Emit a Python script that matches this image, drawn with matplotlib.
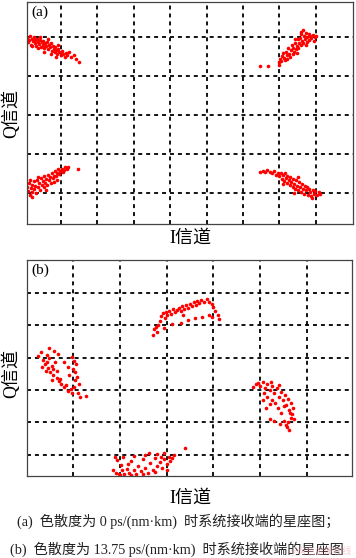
import matplotlib
matplotlib.use("Agg")
import matplotlib.pyplot as plt
import numpy as np

plt.rcParams['font.family'] = ['Liberation Serif', 'Noto Sans CJK SC']

# (a) dispersion 0 ps/(nm km): four clusters, values in grid units
a_tl = [(-4.42,1.97),(-4.40,1.86),(-4.37,1.92),(-4.35,2.01),(-4.33,1.80),(-4.30,1.95),(-4.27,1.88),(-4.25,1.99),
        (-4.22,1.83),(-4.20,1.91),(-4.18,1.77),(-4.15,1.95),(-4.12,1.86),(-4.10,1.81),(-4.08,1.92),(-4.05,1.74),
        (-4.03,1.87),(-4.00,1.80),(-3.98,1.90),(-3.95,1.70),(-3.93,1.84),(-3.90,1.77),(-3.88,1.87),(-3.85,1.68),
        (-3.83,1.80),(-3.80,1.73),(-3.77,1.84),(-3.75,1.64),(-3.72,1.76),(-3.70,1.69),(-3.67,1.60),(-3.65,1.73),
        (-3.62,1.66),(-3.60,1.55),(-3.57,1.68),(-3.54,1.61),(-3.50,1.52),(-3.47,1.63),(-3.44,1.57),(-3.40,1.49),
        (-3.36,1.58),(-3.32,1.52),(-3.27,1.60),(-3.22,1.47),(-3.15,1.53),(-3.08,1.42),(-3.00,1.35),(-3.64,1.48),
        (-3.85,1.93),(-4.06,1.99),(-4.28,1.75),(-3.96,1.62),(-3.78,1.57),(-3.58,1.78),(-4.14,1.70)]
a_tr = [(1.97,1.24),(2.18,1.25),(2.48,1.35),(2.52,1.43),(2.50,1.28),(2.57,1.50),(2.55,1.38),(2.62,1.46),
        (2.60,1.58),(2.66,1.40),(2.68,1.62),(2.70,1.52),(2.74,1.70),(2.76,1.57),(2.78,1.47),(2.82,1.66),
        (2.84,1.78),(2.86,1.56),(2.88,1.72),(2.90,1.62),(2.93,1.84),(2.95,1.68),(2.97,1.77),(3.00,1.93),
        (3.02,1.70),(3.04,1.85),(3.06,1.98),(3.08,1.78),(3.10,2.08),(3.12,1.90),(3.14,2.18),(3.16,1.83),
        (3.18,2.02),(3.20,1.94),(3.23,2.10),(3.25,1.86),(3.27,2.00),(3.30,2.06),(3.32,1.92),(3.35,2.03),
        (3.38,1.96),(3.41,2.05),(3.44,1.90),(3.47,2.00),(3.50,2.03),(3.08,2.12),(2.92,1.95),(3.22,1.78),
        (2.72,1.42),(2.98,1.58)]
a_bl = [(-4.42,-1.85),(-4.40,-1.96),(-4.38,-1.74),(-4.35,-2.05),(-4.33,-1.88),(-4.30,-1.79),(-4.28,-1.98),
        (-4.25,-1.70),(-4.23,-1.90),(-4.20,-1.82),(-4.18,-2.00),(-4.15,-1.68),(-4.13,-1.86),(-4.10,-1.76),
        (-4.08,-1.93),(-4.05,-1.62),(-4.03,-1.80),(-4.00,-1.70),(-3.97,-1.86),(-3.95,-1.58),(-3.93,-1.74),
        (-3.90,-1.65),(-3.87,-1.80),(-3.85,-1.54),(-3.82,-1.68),(-3.80,-1.60),(-3.77,-1.75),(-3.75,-1.50),
        (-3.72,-1.63),(-3.70,-1.56),(-3.67,-1.45),(-3.64,-1.58),(-3.61,-1.50),(-3.58,-1.40),(-3.55,-1.53),
        (-3.52,-1.45),(-3.48,-1.38),(-3.45,-1.48),(-3.42,-1.42),(-3.38,-1.35),(-3.34,-1.40),(-3.30,-1.34),
        (-3.03,-1.38),(-4.30,-2.10),(-4.12,-1.60),(-3.92,-1.92),(-3.68,-1.72),(-4.36,-1.66),(-3.60,-1.66)]
a_br = [(1.97,-1.46),(2.04,-1.44),(2.10,-1.48),(2.16,-1.42),(2.24,-1.46),(2.30,-1.50),(2.34,-1.43),(2.40,-1.55),
        (2.46,-1.49),(2.50,-1.58),(2.53,-1.50),(2.56,-1.64),(2.59,-1.55),(2.62,-1.70),(2.64,-1.49),(2.67,-1.62),
        (2.70,-1.74),(2.72,-1.56),(2.75,-1.68),(2.78,-1.80),(2.80,-1.60),(2.83,-1.72),(2.86,-1.84),(2.88,-1.65),
        (2.91,-1.77),(2.94,-1.90),(2.96,-1.68),(2.99,-1.82),(3.02,-1.94),(3.04,-1.72),(3.07,-1.86),(3.10,-1.98),
        (3.12,-1.78),(3.15,-1.90),(3.18,-2.02),(3.20,-1.82),(3.23,-1.94),(3.26,-1.85),(3.29,-2.05),(3.32,-1.90),
        (3.35,-1.98),(3.38,-2.08),(3.41,-1.92),(3.44,-2.02),(3.48,-1.96),(3.52,-2.05),(3.58,-1.98),(3.62,-2.02),
        (3.40,-2.14),(2.60,-1.78),(2.90,-2.00),(3.00,-1.60)]

# (b) dispersion 13.75 ps/(nm km)
b_left = [(-3.24,0.54),(-3.18,0.66),(-3.13,0.43),(-3.10,0.30),(-3.06,0.58),(-3.03,0.18),(-3.00,0.48),(-2.98,0.05),
          (-3.08,0.10),(-2.95,0.25),(-2.93,-0.05),(-2.90,0.70),(-2.88,0.38),(-2.85,-0.12),(-2.82,0.60),(-2.80,-0.22),
          (-2.75,-0.30),(-2.70,-0.40),(-2.65,-0.35),(-2.60,-0.52),(-2.55,-0.48),(-2.52,-0.58),(-2.48,-0.40),
          (-2.46,-0.20),(-2.45,0.05),(-2.44,0.30),(-2.48,0.40),(-2.50,0.15),(-2.42,-0.10),(-2.40,-0.60),
          (-2.35,-0.72),(-2.22,-0.68),(-2.60,0.20),(-2.70,0.35),(-2.95,-0.20),(-3.15,0.22),(-3.00,0.80),
          (-2.78,-0.15),(-2.58,-0.05),(-2.85,0.10),(-2.52,0.52),(-2.38,-0.30),(-3.05,0.36),(-2.92,0.15)]
b_top = [(-0.78,1.20),(-0.76,1.38),(-0.72,1.45),(-0.68,1.50),(-0.64,1.62),(-0.62,1.78),(-0.58,1.88),(-0.54,1.72),
         (-0.52,1.92),(-0.48,1.82),(-0.45,1.95),(-0.40,1.85),(-0.36,2.00),(-0.32,1.90),(-0.28,1.98),(-0.24,2.04),
         (-0.20,1.95),(-0.16,2.08),(-0.12,2.00),(-0.08,2.12),(-0.04,2.02),(0.00,2.15),(0.04,2.08),(0.08,2.22),
         (0.12,2.12),(0.16,2.25),(0.20,2.18),(0.24,2.28),(0.30,2.20),(0.36,2.30),(0.40,2.22),(0.46,2.15),
         (0.50,2.05),(0.54,1.95),(0.60,1.80),(0.62,1.70),(0.40,1.82),(0.25,1.75),(0.10,1.72),(-0.05,1.66),
         (-0.20,1.58),(-0.38,1.55),(-0.55,1.42),(-0.70,1.30),(0.48,1.75),(-0.15,1.80)]
b_right = [(1.35,-0.40),(1.40,-0.32),(1.45,-0.28),(1.50,-0.38),(1.55,-0.25),(1.60,-0.45),(1.65,-0.30),(1.70,-0.50),
           (1.75,-0.38),(1.80,-0.60),(1.85,-0.45),(1.90,-0.70),(1.95,-0.55),(1.98,-0.82),(2.02,-0.65),(2.06,-0.95),
           (2.10,-0.78),(2.12,-1.10),(2.15,-0.90),(2.18,-1.25),(2.20,-1.05),(2.22,-1.40),(2.16,-1.35),(2.10,-1.50),
           (2.05,-1.58),(2.00,-1.45),(1.95,-1.20),(1.88,-1.05),(1.82,-0.90),(1.76,-0.80),(1.70,-0.92),(1.64,-0.70),
           (1.58,-0.60),(1.80,-1.45),(1.70,-1.40),(1.92,-1.55),(2.08,-1.65),(2.12,-1.72),(1.55,-0.80),(1.62,-1.05),
           (1.90,-0.35),(1.72,-0.25),(2.00,-1.00),(2.14,-1.20)]
b_bottom = [(-1.64,-2.98),(-1.58,-3.05),(-1.55,-2.65),(-1.52,-3.10),(-1.48,-2.80),(-1.45,-2.98),(-1.40,-3.08),
            (-1.35,-2.92),(-1.30,-3.05),(-1.25,-2.70),(-1.20,-2.95),(-1.15,-3.08),(-1.10,-2.85),(-1.05,-3.00),
            (-1.00,-2.62),(-0.95,-2.90),(-0.90,-3.05),(-0.85,-2.75),(-0.80,-2.95),(-0.75,-2.60),(-0.70,-2.85),
            (-0.65,-2.72),(-0.60,-2.90),(-0.55,-2.62),(-0.50,-2.78),(-0.45,-2.55),(-0.42,-2.70),(-0.38,-2.60),
            (-0.35,-2.50),(-0.10,-2.30),(-1.60,-2.55),(-1.42,-2.55),(-1.20,-2.52),(-0.95,-2.50),(-0.70,-2.48),
            (-0.55,-2.45),(-1.50,-3.12),(-1.25,-3.12),(-1.00,-3.10),(-0.75,-3.02),(-0.48,-2.95),(-0.62,-2.55),
            (-1.32,-2.78),(-0.88,-2.45)]

a_xticks = [-3.5, -2.5, -1.5, -0.5, 0.5, 1.5, 2.5, 3.5]
a_yticks = [-2, -1, 0, 1, 2]
b_xticks = [-2.5, -1.5, -0.5, 0.5, 1.5, 2.5]
b_yticks = [-2.5, -1.5, -0.5, 0.5, 1.5, 2.5]

fig = plt.figure(figsize=(3.56, 5.58), dpi=100)
ax1 = fig.add_axes([27/356, 1 - 224/558, 326/356, 222/558])
ax2 = fig.add_axes([27/356, 1 - 476/558, 325/356, 216/558])


def style(ax, xt, yt, xlim, ylim, tag):
    ax.set_xlim(xlim)
    ax.set_ylim(ylim)
    ax.set_xticks(xt)
    ax.set_yticks(yt)
    ax.tick_params(length=0, labelbottom=False, labelleft=False)
    ax.grid(True, color='black', linestyle=(0, (2.2, 2.2)), linewidth=1.3)
    for s in ax.spines.values():
        s.set_color('#444444')
        s.set_linewidth(0.9)
    ax.text(0.012, 0.985, tag, transform=ax.transAxes, ha='left', va='top', fontsize=11)


for pts in [a_tl, a_tr, a_bl, a_br]:
    p = np.array(pts)
    ax1.plot(p[:, 0], p[:, 1], 'o', color='red', ms=2.6, mew=0)
for pts in [b_left, b_top, b_right, b_bottom]:
    p = np.array(pts)
    ax2.plot(p[:, 0], p[:, 1], 'o', color='red', ms=2.6, mew=0)

style(ax1, a_xticks, a_yticks, (-4.43, 4.52), (-2.8, 2.89), '(a)')
style(ax2, b_xticks, b_yticks, (-3.48, 3.46), (-3.15, 3.51), '(b)')

fig.text(190/356, 1 - 238/558, 'I信道', ha='center', va='center', fontsize=13)
fig.text(11/356, 1 - 113/558, 'Q信道', ha='center', va='center', fontsize=13, rotation=90)
fig.text(190/356, 1 - 498/558, 'I信道', ha='center', va='center', fontsize=13)
fig.text(11/356, 1 - 373/558, 'Q信道', ha='center', va='center', fontsize=13, rotation=90)

fig.text(17/356, 1 - 521/558, '(a)  色散度为 0 ps/(nm·km)  时系统接收端的星座图；',
         ha='left', va='center', fontsize=10.2, color='#222222')
fig.text(10/356, 1 - 549/558, '(b)  色散度为 13.75 ps/(nm·km)  时系统接收端的星座图',
         ha='left', va='center', fontsize=10.2, color='#222222')
# faint watermark in the lower right corner
fig.text(352/356, 2/558, '@有色金属在线', ha='right', va='bottom', fontsize=6.5,
         color='#f0a0b0', alpha=0.55)

fig.savefig('out.png', dpi=100)
